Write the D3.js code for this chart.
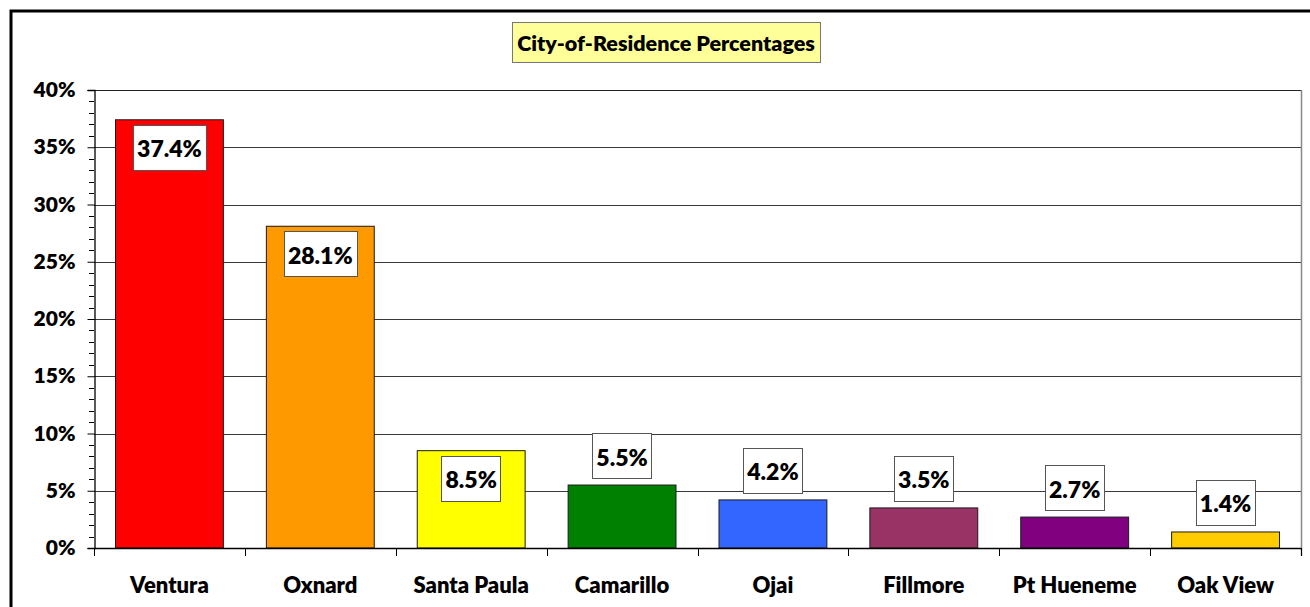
<!DOCTYPE html>
<html>
<head>
<meta charset="utf-8">
<script src="https://cdn.jsdelivr.net/npm/d3@7"></script>
<style>
  html, body { margin: 0; padding: 0; background: #fff; }
  svg { display: block; }
  text { font-family: Lato, "Noto Sans", sans-serif; font-weight: 800; fill: #000; }
</style>
</head>
<body>
<svg id="chart" width="1310" height="607"></svg>
<script>
// ---- data ----
const cities = ["Ventura", "Oxnard", "Santa Paula", "Camarillo", "Ojai", "Fillmore", "Pt Hueneme", "Oak View"];
const percents = [37.4, 28.1, 8.5, 5.5, 4.2, 3.5, 2.7, 1.4];
const barColors = ["#ff0000", "#ff9900", "#ffff00", "#008000", "#3366ff", "#993366", "#800080", "#ffcc00"];
const yTicks = [0, 5, 10, 15, 20, 25, 30, 35, 40];
const yMinorTicks = d3.range(0, 41, 1);
const chartTitle = "City-of-Residence Percentages";

// ---- layout ----
const svg = d3.select("#chart");
const W = 1310, H = 607;
const plot = { left: 94, right: 1301, top: 90, bottom: 548 };

const x = d3.scaleBand().domain(cities).range([plot.left, plot.right]).paddingInner(0.285).paddingOuter(0.1425);
const y = d3.scaleLinear().domain([0, 40]).range([plot.bottom, plot.top]);

// outer chart border
svg.append("rect")
  .attr("x", 11).attr("y", 11)
  .attr("width", W + 20).attr("height", H + 20)
  .attr("fill", "#fff").attr("stroke", "#000").attr("stroke-width", 3);

// gridlines
svg.append("g").selectAll("line").data(yTicks.filter(d => d > 0)).join("line")
  .attr("x1", plot.left).attr("x2", plot.right)
  .attr("y1", d => Math.round(y(d)) + 0.5).attr("y2", d => Math.round(y(d)) + 0.5)
  .attr("stroke", d => d === 40 ? "#222" : "#3a3a3a").attr("stroke-width", 1);

// plot right border
svg.append("line")
  .attr("x1", plot.right + 0.5).attr("x2", plot.right + 0.5)
  .attr("y1", plot.top).attr("y2", plot.bottom + 8)
  .attr("stroke", "#888").attr("stroke-width", 1.5);

// bars
svg.append("g").selectAll("rect").data(cities).join("rect")
  .attr("x", d => x(d))
  .attr("y", (d, i) => y(percents[i]))
  .attr("width", x.bandwidth())
  .attr("height", (d, i) => y(0) - y(percents[i]))
  .attr("fill", (d, i) => barColors[i])
  .attr("stroke", "#1a1a1a").attr("stroke-width", 1);

// y axis
const yAxis = d3.axisLeft(y).tickValues(yTicks).tickSize(7).tickPadding(12).tickFormat(d => d + "%");
const gy = svg.append("g").attr("transform", `translate(${plot.left + 0.5},0)`).call(yAxis);
gy.select(".domain").attr("stroke", "#000").attr("stroke-width", 1.3);
gy.selectAll(".tick line").attr("stroke", "#000");
gy.selectAll(".tick text").style("font-size", "21px").style("font-family", "Lato, sans-serif").style("font-weight", "800").attr("fill", "#000");
// minor ticks
svg.append("g").selectAll("line").data(yMinorTicks.filter(d => d % 5 !== 0)).join("line")
  .attr("x1", plot.left - 5).attr("x2", plot.left)
  .attr("y1", d => Math.round(y(d)) + 0.5).attr("y2", d => Math.round(y(d)) + 0.5)
  .attr("stroke", "#000").attr("stroke-width", 1);

// x axis line + ticks between categories
svg.append("line")
  .attr("x1", plot.left).attr("x2", plot.right)
  .attr("y1", plot.bottom + 0.5).attr("y2", plot.bottom + 0.5)
  .attr("stroke", "#000").attr("stroke-width", 1.3);
const boundaries = d3.range(0, cities.length + 1).map(i => plot.left + i * (plot.right - plot.left) / cities.length);
svg.append("g").selectAll("line").data(boundaries).join("line")
  .attr("x1", d => Math.round(d) + 0.5).attr("x2", d => Math.round(d) + 0.5)
  .attr("y1", plot.bottom).attr("y2", plot.bottom + 8)
  .attr("stroke", "#000").attr("stroke-width", 1);

// category labels
svg.append("g").selectAll("text").data(cities).join("text")
  .attr("x", d => x(d) + x.bandwidth() / 2)
  .attr("y", 593)
  .attr("text-anchor", "middle")
  .style("font-size", "22px")
  .text(d => d);

// data labels
const labelG = svg.append("g");
cities.forEach((c, i) => {
  const v = percents[i];
  const cx = x(c) + x.bandwidth() / 2;
  const g = labelG.append("g");
  const rect = g.append("rect");
  const t = g.append("text")
    .attr("text-anchor", "middle")
    .attr("dominant-baseline", "central")
    .style("font-size", "23px")
    .text(v.toFixed(1) + "%");
  const tw = t.node().getComputedTextLength();
  const bw = tw + 8, bh = 45;
  const inside = v >= 8;
  const top = inside ? y(v) + 5 : y(v) - 7 - bh;
  rect.attr("x", Math.round(cx - bw / 2) + 0.5).attr("y", Math.round(top) + 0.5)
    .attr("width", Math.round(bw)).attr("height", bh)
    .attr("fill", "#fff").attr("stroke", "#555").attr("stroke-width", 1);
  t.attr("x", cx).attr("y", top + bh / 2 + 1);
});

// title box
const tg = svg.append("g");
const tt = tg.append("text")
  .attr("x", 666).attr("y", 43)
  .attr("text-anchor", "middle").attr("dominant-baseline", "central")
  .style("font-size", "21.5px")
  .text(chartTitle);
const ttw = tt.node().getComputedTextLength();
tg.insert("rect", "text")
  .attr("x", Math.round(666 - (ttw + 10) / 2) + 0.5).attr("y", 22.5)
  .attr("width", Math.round(ttw + 10)).attr("height", 40)
  .attr("fill", "#ffff99").attr("stroke", "#777").attr("stroke-width", 1);
</script>
</body>
</html>
